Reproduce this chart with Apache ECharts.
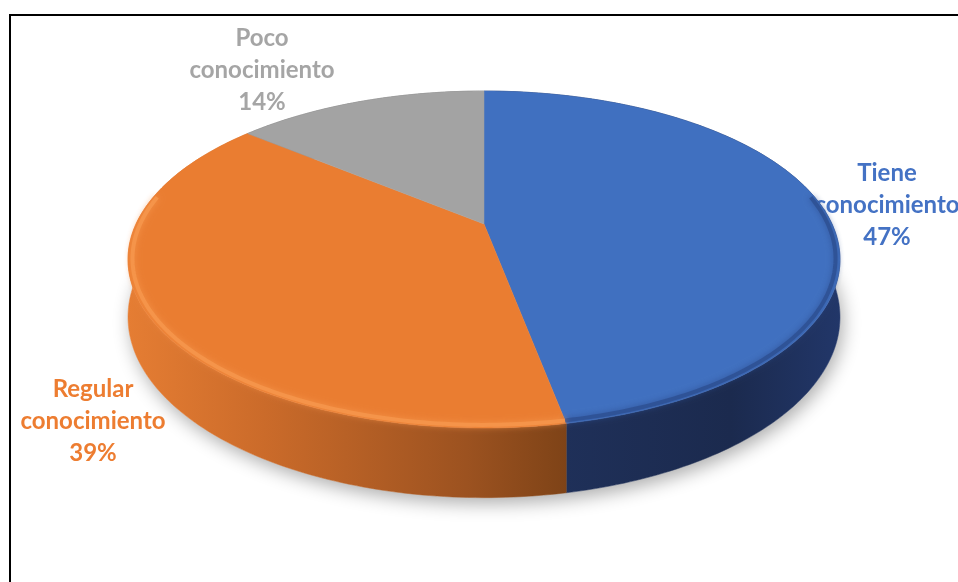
<!DOCTYPE html>
<html>
<head>
<meta charset="utf-8">
<script src="https://cdn.jsdelivr.net/npm/echarts/dist/echarts.min.js"></script>
<style>
  html, body { margin: 0; padding: 0; background: #ffffff; }
  #chart { width: 958px; height: 582px; }
</style>
</head>
<body>
<div id="chart"></div>
<script>
// Survey result: level of knowledge (percent of respondents)
const categories = ['Tiene conocimiento', 'Regular conocimiento', 'Poco conocimiento'];
const shares = [47, 39, 14];
const labelLines = [['Tiene', 'conocimiento'], ['Regular', 'conocimiento'], ['Poco', 'conocimiento']];

// Styling
const topColors = ['#4070C0', '#EA7D31', '#A3A3A3'];
const labelColors = ['#4472C4', '#ED7D31', '#A5A5A5'];
const rimColors = ['#2E5093', '#F6964C', '#B0B0B0'];

// Layout of the tilted disc (perspective projection of a unit circle)
const disc = { cx: 484, cy: 224, rx: 348, ry: 161, persp: 0.2107, depth: 55 };
const labelAnchors = [[887, 205], [93, 421], [262, 70]];

const total = shares.reduce((a, b) => a + b, 0);
const startShare = shares.map((_, i) => shares.slice(0, i).reduce((a, b) => a + b, 0));

// angle in degrees, clockwise from 12 o'clock; h = drop below the top face
function project(phiDeg, r, h) {
  const p = phiDeg * Math.PI / 180;
  const u = r * Math.sin(p), v = -r * Math.cos(p);
  const w = 1 - disc.persp * v;
  return [disc.cx + disc.rx * u / w, disc.cy + (disc.ry * v + h) / w];
}
function arc(a0, a1, h, r) {
  const pts = [];
  const n = Math.max(2, Math.ceil(Math.abs(a1 - a0)));
  for (let k = 0; k <= n; k++) pts.push(project(a0 + (a1 - a0) * k / n, r || 1, h));
  return pts;
}

const sideFills = [
  new echarts.graphic.LinearGradient(560, 0, 845, 0, [
    { offset: 0, color: '#1F3059' }, { offset: 0.6, color: '#1B2A4E' }, { offset: 1, color: '#22376A' }
  ], true),
  new echarts.graphic.LinearGradient(128, 0, 580, 0, [
    { offset: 0, color: '#E57D33' }, { offset: 0.3, color: '#CB6B2A' },
    { offset: 0.75, color: '#9C5220' }, { offset: 1, color: '#7A4116' }
  ], true),
  '#6E6E6E'
];

function renderSlice(params, api) {
  const i = params.dataIndex;
  const value = api.value(0);
  const a0 = 360 * startShare[i] / total;
  const a1 = a0 + 360 * value / total;
  const children = [];

  if (i === 0) {
    // soft drop shadow under the whole disc
    children.push({
      type: 'polygon', z2: 1, silent: true,
      shape: { points: arc(0, 360, disc.depth) },
      style: { fill: '#ffffff', shadowBlur: 18, shadowColor: 'rgba(0,0,0,0.32)', shadowOffsetY: 6, shadowOffsetX: 3 }
    });
  }

  // outer wall
  const topArc = arc(a0, a1, 0);
  const bottomArc = arc(a1, a0, disc.depth);
  children.push({
    type: 'polygon', z2: 2,
    shape: { points: topArc.concat(bottomArc) },
    style: { fill: sideFills[i], stroke: sideFills[i], lineWidth: 0.5 }
  });

  // top face
  children.push({
    type: 'polygon', z2: 3,
    shape: { points: [project(0, 0, 0)].concat(topArc) },
    style: { fill: topColors[i], stroke: topColors[i], lineWidth: 0.5 }
  });

  // bevel along the visible front rim
  const f0 = Math.max(a0, 80), f1 = Math.min(a1, 280);
  if (f1 > f0) {
    children.push({
      type: 'polyline', z2: 4, silent: true,
      shape: { points: arc(f0, f1, 0, 0.988) },
      style: { stroke: rimColors[i], lineWidth: 4, fill: null, shadowBlur: 6, shadowColor: rimColors[i], opacity: 0.85 }
    });
  }

  // data label (sits beneath the disc)
  const pct = Math.round(100 * value / total) + '%';
  children.push({
    type: 'text', z2: 0,
    x: labelAnchors[i][0], y: labelAnchors[i][1],
    style: {
      text: labelLines[i].concat([pct]).join('\n'),
      fill: labelColors[i],
      fontFamily: 'Lato, "Open Sans", sans-serif',
      fontWeight: 'bold', fontSize: 24, lineHeight: 32,
      align: 'center', verticalAlign: 'middle'
    }
  });

  return { type: 'group', children: children };
}

const chart = echarts.init(document.getElementById('chart'));
chart.setOption({
  animation: false,
  graphic: [{
    type: 'rect', z: -1, silent: true,
    shape: { x: 10, y: 15, width: 1000, height: 1000 },
    style: { fill: 'none', stroke: '#000000', lineWidth: 2 }
  }],
  series: [{
    type: 'custom',
    coordinateSystem: 'none',
    renderItem: renderSlice,
    data: shares.map((v, i) => ({ name: categories[i], value: [v] }))
  }]
});
</script>
</body>
</html>
